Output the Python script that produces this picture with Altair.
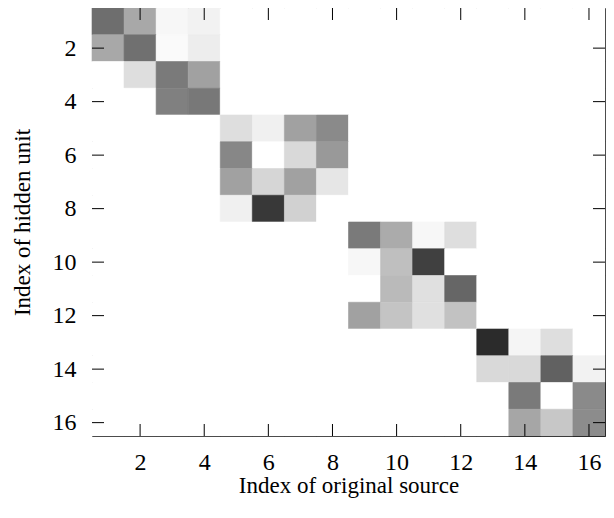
import altair as alt
import pandas as pd

# ---- data -------------------------------------------------------------
sources = list(range(1, 17))   # index of original source (x)
units = list(range(1, 17))     # index of hidden unit (y)
tick_values = [2, 4, 6, 8, 10, 12, 14, 16]

# block-diagonal weight magnitudes (0 = white, 1 = black)
block_1 = [[0.57, 0.34, 0.03, 0.05],
           [0.34, 0.56, 0.02, 0.07],
           [0.00, 0.13, 0.52, 0.37],
           [0.00, 0.00, 0.50, 0.53]]
block_2 = [[0.13, 0.06, 0.37, 0.46],
           [0.47, 0.00, 0.15, 0.40],
           [0.37, 0.16, 0.37, 0.10],
           [0.06, 0.78, 0.18, 0.00]]
block_3 = [[0.52, 0.33, 0.03, 0.13],
           [0.03, 0.25, 0.75, 0.00],
           [0.00, 0.27, 0.12, 0.60],
           [0.37, 0.23, 0.12, 0.24]]
block_4 = [[0.83, 0.04, 0.13, 0.00],
           [0.15, 0.15, 0.62, 0.05],
           [0.00, 0.52, 0.00, 0.46],
           [0.00, 0.35, 0.22, 0.45]]
blocks = [block_1, block_2, block_3, block_4]

records = []
for u in units:
    for s in sources:
        b = (u - 1) // 4
        if (s - 1) // 4 == b:
            v = blocks[b][(u - 1) % 4][(s - 1) % 4]
        else:
            v = 0.0
        records.append({"source": s, "unit": u, "weight": v})
df = pd.DataFrame(records)
ticks_df = pd.DataFrame({"t": tick_values})

# ---- chart ------------------------------------------------------------
W, H = 513, 428
FONT = "Liberation Serif"
TL = 12  # inward tick length

xs = alt.Scale(domain=[0.5, 16.5], nice=False, zero=False)
ys = alt.Scale(domain=[0.5, 16.5], nice=False, zero=False, reverse=True)
cs = alt.Scale(domain=[0, 1], range=["#ffffff", "#000000"], interpolate="rgb")

x_axis = alt.Axis(values=tick_values, title="Index of original source",
                  labelPadding=33, labelBaseline="alphabetic",
                  titleBaseline="alphabetic", titleY=56)
y_axis = alt.Axis(values=tick_values, title="Index of hidden unit",
                  labelPadding=16, titleBaseline="alphabetic",
                  titleX=-63, titleY=H / 2)

heat = alt.Chart(df).transform_calculate(
    x0="datum.source - 0.5", x1="datum.source + 0.5",
    y0="datum.unit - 0.5", y1="datum.unit + 0.5",
).mark_rect(strokeWidth=0.6).encode(
    x=alt.X("x0:Q", scale=xs, axis=x_axis),
    x2="x1:Q",
    y=alt.Y("y0:Q", scale=ys, axis=y_axis),
    y2="y1:Q",
    color=alt.Color("weight:Q", scale=cs, legend=None),
    stroke=alt.Stroke("weight:Q", scale=cs, legend=None),
)

left_ticks = alt.Chart(ticks_df).mark_rule(color="black", strokeWidth=1).encode(
    y=alt.Y("t:Q", scale=ys, axis=y_axis), x=alt.value(0), x2=alt.value(TL))
right_ticks = alt.Chart(ticks_df).mark_rule(color="black", strokeWidth=1).encode(
    y=alt.Y("t:Q", scale=ys, axis=y_axis), x=alt.value(W - TL), x2=alt.value(W))
top_ticks = alt.Chart(ticks_df).mark_rule(color="black", strokeWidth=1).encode(
    x=alt.X("t:Q", scale=xs, axis=x_axis), y=alt.value(0), y2=alt.value(TL))
bottom_ticks = alt.Chart(ticks_df).mark_rule(color="black", strokeWidth=1).encode(
    x=alt.X("t:Q", scale=xs, axis=x_axis), y=alt.value(H - TL), y2=alt.value(H))

chart = alt.layer(heat, left_ticks, right_ticks, top_ticks, bottom_ticks).properties(
    width=W, height=H,
    autosize=alt.AutoSizeParams(type="none"),
    padding={"left": 84, "top": 0, "right": 1, "bottom": 80},
).configure_view(
    stroke="black", strokeWidth=1
).configure_axis(
    domain=False, ticks=False, grid=False,
    labelFont=FONT, labelFontSize=24, labelColor="black",
    titleFont=FONT, titleFontSize=23, titleColor="black", titleFontWeight="normal",
)

chart.save("out.html", embed_options={"renderer": "svg", "actions": False})
